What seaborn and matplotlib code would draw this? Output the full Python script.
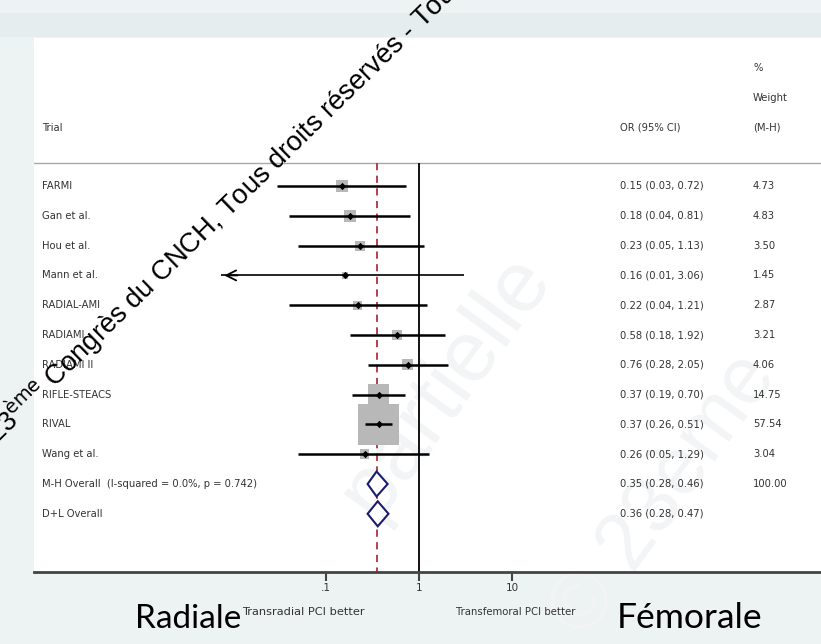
import matplotlib
matplotlib.use("Agg")
import matplotlib.pyplot as plt
from matplotlib.patches import Polygon, Rectangle
import seaborn as sns
import pandas as pd

# --- data ---
trials = ["FARMI", "Gan et al.", "Hou et al.", "Mann et al.", "RADIAL-AMI",
          "RADIAMI", "RADIAMI II", "RIFLE-STEACS", "RIVAL", "Wang et al."]
or_est = [0.15, 0.18, 0.23, 0.16, 0.22, 0.58, 0.76, 0.37, 0.37, 0.26]
ci_lo = [0.03, 0.04, 0.05, 0.0075, 0.04, 0.18, 0.28, 0.19, 0.26, 0.05]
ci_hi = [0.72, 0.81, 1.13, 3.06, 1.21, 1.92, 2.05, 0.70, 0.51, 1.29]
weights = [4.73, 4.83, 3.50, 1.45, 2.87, 3.21, 4.06, 14.75, 57.54, 3.04]

overall_labels = ["M-H Overall  (I-squared = 0.0%, p = 0.742)", "D+L Overall"]
overall_est = [0.35, 0.36]
overall_lo = [0.28, 0.28]
overall_hi = [0.46, 0.47]
overall_weight = ["100.00", ""]

xticks = [0.1, 1, 10]
xtick_labels = [".1", "1", "10"]

W, H = 821, 644
BG = "#edf2f3"
TXT = "#333333"

sns.set_theme(style="white")
plt.rcParams["font.family"] = ["DejaVu Sans"]

fig = plt.figure(figsize=(W / 100, H / 100), dpi=100, facecolor=BG)

# light band at top
fig.patches.append(Rectangle((0, 1 - 37 / H), 1, 24 / H, transform=fig.transFigure,
                             facecolor="#e6edef", edgecolor="none", zorder=0))

# panel axes in pixel geometry
x0, x1, ytop, ybot = 34, 821, 38, 572
ax = fig.add_axes([x0 / W, 1 - ybot / H, (x1 - x0) / W, (ybot - ytop) / H])
ax.set_facecolor("white")
ax.set_xscale("log")
px_per_dec = 93.0
ax.set_xlim(10 ** ((x0 - 419) / px_per_dec), 10 ** ((x1 - 419) / px_per_dec))
row0, row_h = 186, 29.8
ax.set_ylim((ybot - row0) / row_h, -(row0 - ytop) / row_h)
sep_y = (163 - row0) / row_h

# faint background watermark
ax.text(375 / W, 1 - 520 / H, "partielle", transform=fig.transFigure, fontsize=62,
        family="Liberation Sans", color="#f2f4f5", rotation=54, rotation_mode="anchor",
        ha="left", va="baseline", zorder=0.5)
ax.text(585 / W, 1 - 640 / H, "© 23ème", transform=fig.transFigure, fontsize=58,
        family="Liberation Sans", color="#f2f4f5", rotation=54, rotation_mode="anchor",
        ha="left", va="baseline", zorder=0.5)

df = pd.DataFrame({"trial": trials, "est": or_est, "lo": ci_lo, "hi": ci_hi, "w": weights})
df["row"] = range(len(df))

# reference lines
ax.axhline(sep_y, color="#a8a8a8", lw=1.0)
ax.vlines(1, sep_y, ax.get_ylim()[0], color="black", lw=1.3, zorder=2)
ax.vlines(overall_est[0], sep_y, ax.get_ylim()[0], color="#b0303c", lw=1.3,
          linestyles=(0, (4, 3)), zorder=2)

# weight boxes (area proportional to weight)
sns.scatterplot(data=df, x="est", y="row", size="w", sizes=(0, 1520), size_norm=(0, 100),
                marker="s", color="#b8b8b8", linewidth=0, legend=False, ax=ax, zorder=3)

# confidence intervals
for i, r in df.iterrows():
    if r["trial"] == "Mann et al.":
        ax.hlines(r["row"], r["lo"], r["hi"], color="black", lw=1.2, zorder=4)
        ax.annotate("", xy=(r["lo"], r["row"]), xytext=(r["lo"] * 1.6, r["row"]),
                    arrowprops=dict(arrowstyle="->", lw=1.3, color="black",
                                    mutation_scale=18), zorder=4)
    else:
        ax.hlines(r["row"], r["lo"], r["hi"], color="black", lw=1.8, zorder=4)
sns.scatterplot(data=df, x="est", y="row", marker="D", s=14, color="black",
                linewidth=0, legend=False, ax=ax, zorder=5)

# overall diamonds
for k in range(len(overall_est)):
    y = len(trials) + k
    pts = [(overall_lo[k], y), (overall_est[k], y - 0.42),
           (overall_hi[k], y), (overall_est[k], y + 0.42)]
    ax.add_patch(Polygon(pts, closed=True, facecolor="white", edgecolor="#1c1c6e",
                         lw=1.5, zorder=5))

# axis styling
for s in ["top", "left", "right"]:
    ax.spines[s].set_visible(False)
ax.spines["bottom"].set_color("#444444")
ax.spines["bottom"].set_linewidth(2.0)
ax.set_xticks(xticks)
ax.set_xticklabels(xtick_labels)
ax.xaxis.set_minor_locator(matplotlib.ticker.NullLocator())
ax.set_yticks([])
ax.tick_params(axis="x", bottom=True, direction="out", length=6.5, width=1.5,
               color="#444444", labelsize=7.5, labelcolor=TXT, pad=1.5)
ax.set_xlabel("")
ax.set_ylabel("")

# text columns
tr = ax.get_yaxis_transform()


def axx(px):
    return (px - x0) / (x1 - x0)


fs = 7.2
col_trial, col_or, col_w = 42, 620, 753
ax.text(axx(col_trial), (128 - row0) / row_h, "Trial", transform=tr, fontsize=fs, color=TXT, va="center")
ax.text(axx(col_or), (128 - row0) / row_h, "OR (95% CI)", transform=tr, fontsize=fs, color=TXT, va="center")
ax.text(axx(col_w), (68 - row0) / row_h, "%", transform=tr, fontsize=fs, color=TXT, va="center")
ax.text(axx(col_w), (98 - row0) / row_h, "Weight", transform=tr, fontsize=fs, color=TXT, va="center")
ax.text(axx(col_w), (128 - row0) / row_h, "(M-H)", transform=tr, fontsize=fs, color=TXT, va="center")

for i, r in df.iterrows():
    ax.text(axx(col_trial), r["row"], r["trial"], transform=tr, fontsize=fs, color=TXT, va="center")
    ax.text(axx(col_or), r["row"], f"{r['est']:.2f} ({r['lo']:.2f}, {r['hi']:.2f})",
            transform=tr, fontsize=fs, color=TXT, va="center")
    ax.text(axx(col_w), r["row"], f"{r['w']:.2f}", transform=tr, fontsize=fs, color=TXT, va="center")
for k in range(len(overall_est)):
    y = len(trials) + k
    ax.text(axx(col_trial), y, overall_labels[k], transform=tr, fontsize=fs, color=TXT, va="center")
    ax.text(axx(col_or), y, f"{overall_est[k]:.2f} ({overall_lo[k]:.2f}, {overall_hi[k]:.2f})",
            transform=tr, fontsize=fs, color=TXT, va="center")
    ax.text(axx(col_w), y, overall_weight[k], transform=tr, fontsize=fs, color=TXT, va="center")

# bottom annotations
fig.text(135 / W, 1 - 628 / H, "Radiale", fontsize=24, family="Lato", color="black", va="baseline")
fig.text(242 / W, 1 - 612 / H, "Transradial PCI better", fontsize=8.2, color=TXT, va="center")
fig.text(456 / W, 1 - 612 / H, "Transfemoral PCI better", fontsize=7.3, color=TXT, va="center")
fig.text(617 / W, 1 - 628 / H, "Fémorale", fontsize=25.5, family="Lato", color="black", va="baseline")

# diagonal watermark
fig.text(-2 / W, 1 - 445 / H, "23$^{\\rm ème}$ Congrès du CNCH, Tous droits réservés - Tous droits",
         fontsize=19.6, family="Liberation Sans", color="black", rotation=44.3,
         rotation_mode="anchor", ha="left", va="baseline", zorder=10)

fig.savefig("out.png", dpi=100, facecolor=BG)
